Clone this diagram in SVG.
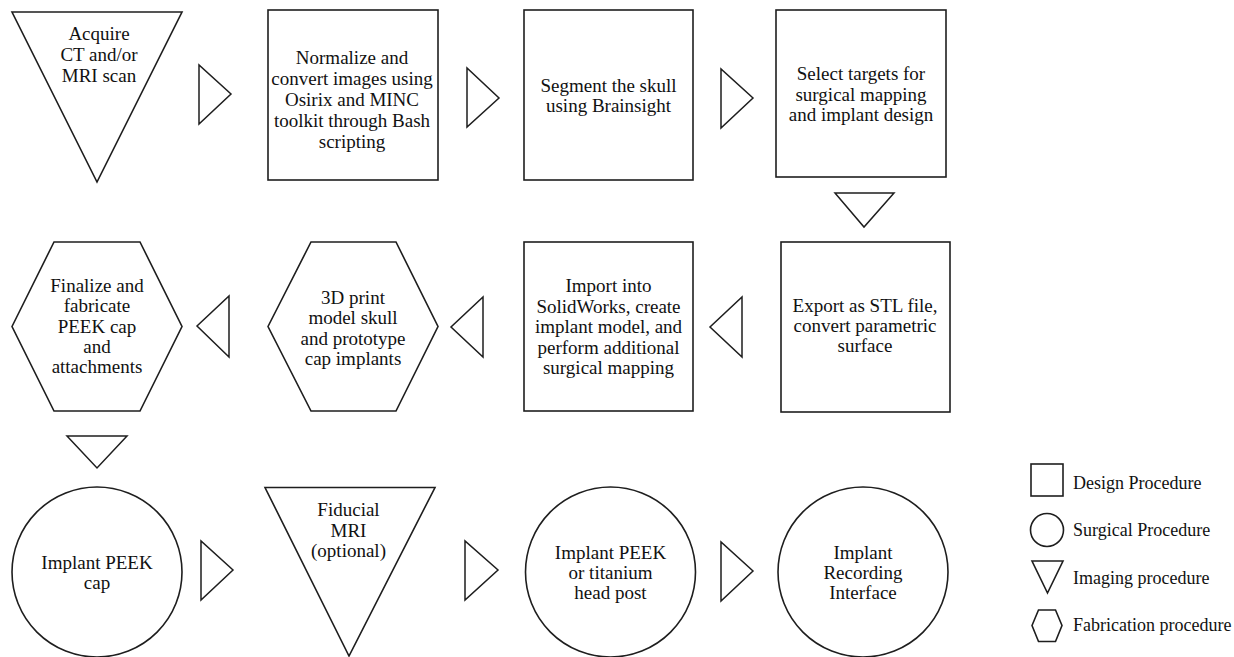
<svg xmlns="http://www.w3.org/2000/svg" width="1234" height="657" viewBox="0 0 1234 657">
<style>
.s{fill:#fff;stroke:#1e1e1e;stroke-width:1.6;stroke-linejoin:miter}
.a{fill:#fff;stroke:#1e1e1e;stroke-width:1.5}
.t{font-size:19px;fill:#111;text-anchor:middle}
.l{font-size:18px;fill:#111}
</style>
<rect width="1234" height="657" fill="#fff"/>
<g id="connectors">
<polygon class="a" points="199,65 199,124 231,94"/>
<polygon class="a" points="467,68 467,127 499,98"/>
<polygon class="a" points="721,69 721,128 753,98"/>
<polygon class="a" points="835,193 894,193 864,227"/>
<polygon class="a" points="742,297 742,357 710,327"/>
<polygon class="a" points="483,297 483,357 451,327"/>
<polygon class="a" points="229,296 229,357 197,326"/>
<polygon class="a" points="67,436 127,436 97,468"/>
<polygon class="a" points="201,541 201,600 233,570"/>
<polygon class="a" points="465,541 465,600 498,570"/>
<polygon class="a" points="721,542 721,601 753,571"/>
</g>
<g font-family="'Liberation Serif', 'Times New Roman', Times, serif">
<g id="n1">
<polygon class="s" points="12,12 182,12 97,182"/>
<text class="t" x="99" y="39.5">Acquire</text>
<text class="t" x="99" y="60.5">CT and/or</text>
<text class="t" x="99" y="81.5">MRI scan</text>
</g>
<g id="n2">
<rect class="s" x="268" y="10" width="170" height="170"/>
<text class="t" x="352" y="64">Normalize and</text>
<text class="t" x="352" y="85">convert images using</text>
<text class="t" x="352" y="106">Osirix and MINC</text>
<text class="t" x="352" y="127">toolkit through Bash</text>
<text class="t" x="352" y="148">scripting</text>
</g>
<g id="n3">
<rect class="s" x="524" y="10" width="169" height="170"/>
<text class="t" x="608.5" y="91.5">Segment the skull</text>
<text class="t" x="608.5" y="111.5">using Brainsight</text>
</g>
<g id="n4">
<rect class="s" x="776" y="10" width="170" height="167"/>
<text class="t" x="861" y="80">Select targets for</text>
<text class="t" x="861" y="100.5">surgical mapping</text>
<text class="t" x="861" y="121">and implant design</text>
</g>
<g id="n5">
<rect class="s" x="781" y="242" width="169" height="170"/>
<text class="t" x="865" y="311.5">Export as STL file,</text>
<text class="t" x="865" y="331.5">convert parametric</text>
<text class="t" x="865" y="351.5">surface</text>
</g>
<g id="n6">
<rect class="s" x="524" y="242" width="169" height="169"/>
<text class="t" x="608.5" y="291.5">Import into</text>
<text class="t" x="608.5" y="312.5">SolidWorks, create</text>
<text class="t" x="608.5" y="333">implant model, and</text>
<text class="t" x="608.5" y="353.5">perform additional</text>
<text class="t" x="608.5" y="374">surgical mapping</text>
</g>
<g id="n7">
<polygon class="s" points="268,326.5 311,242 396,242 438,326.5 396,411 311,411"/>
<text class="t" x="353" y="303.5">3D print</text>
<text class="t" x="353" y="324">model skull</text>
<text class="t" x="353" y="344.5">and prototype</text>
<text class="t" x="353" y="365">cap implants</text>
</g>
<g id="n8">
<polygon class="s" points="12,326.5 54,242 140,242 182,326.5 140,411 54,411"/>
<text class="t" x="97" y="291.5">Finalize and</text>
<text class="t" x="97" y="312">fabricate</text>
<text class="t" x="97" y="332.5">PEEK cap</text>
<text class="t" x="97" y="353">and</text>
<text class="t" x="97" y="373">attachments</text>
</g>
<g id="n9">
<circle class="s" cx="97" cy="572" r="85"/>
<text class="t" x="97" y="569">Implant PEEK</text>
<text class="t" x="97" y="588.5">cap</text>
</g>
<g id="n10">
<polygon class="s" points="265,487.5 435,487.5 349,656"/>
<text class="t" x="348.5" y="516">Fiducial</text>
<text class="t" x="348.5" y="536.5">MRI</text>
<text class="t" x="348.5" y="556.5">(optional)</text>
</g>
<g id="n11">
<circle class="s" cx="610.5" cy="572" r="85"/>
<text class="t" x="610.5" y="558.5">Implant PEEK</text>
<text class="t" x="610.5" y="578.5">or titanium</text>
<text class="t" x="610.5" y="599">head post</text>
</g>
<g id="n12">
<circle class="s" cx="863" cy="572" r="85"/>
<text class="t" x="863" y="558.5">Implant</text>
<text class="t" x="863" y="578.5">Recording</text>
<text class="t" x="863" y="598.5">Interface</text>
</g>
<g id="legend">
<rect class="s" x="1031" y="464" width="32" height="32"/>
<text class="l" x="1073" y="488.5">Design Procedure</text>
<circle class="s" cx="1047" cy="530" r="16.5"/>
<text class="l" x="1073" y="536">Surgical Procedure</text>
<polygon class="s" points="1032,561 1063,561 1047.5,593"/>
<text class="l" x="1073" y="583.5">Imaging procedure</text>
<polygon class="s" points="1032,625.5 1038.5,610 1055.5,610 1062,625.5 1055.5,641.5 1038.5,641.5"/>
<text class="l" x="1073" y="631">Fabrication procedure</text>
</g>
</g>
</svg>
